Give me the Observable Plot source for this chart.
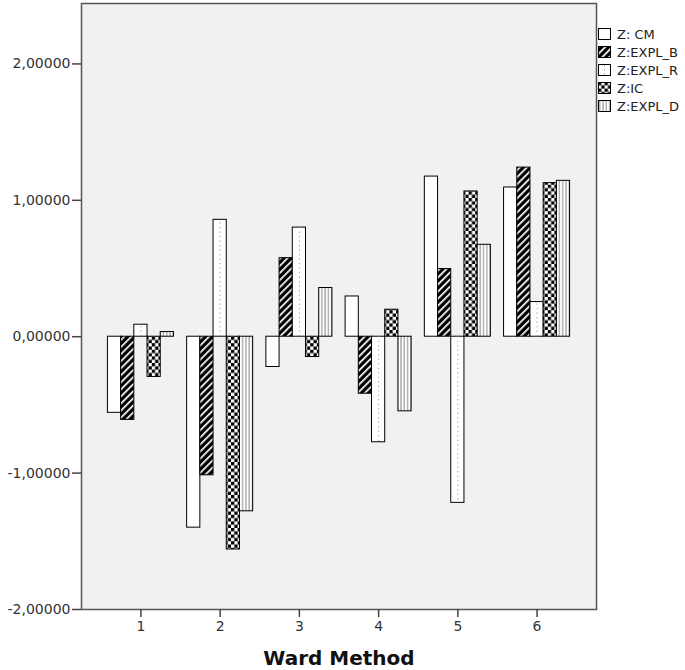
<!DOCTYPE html>
<html><head><meta charset="utf-8">
<script src="https://cdn.jsdelivr.net/npm/d3@7"></script>
<script src="https://cdn.jsdelivr.net/npm/@observablehq/plot@0.6"></script>
<style>
body{margin:0;background:#fff;}
#wrap{position:relative;width:685px;height:670px;}
#legend{position:absolute;left:598px;top:25px;font:13px "DejaVu Sans",sans-serif;color:#222;}
.row{display:flex;align-items:center;height:18px;white-space:nowrap;}
.row svg{margin-right:6px;}
g[aria-label="x-axis label"] text{font-weight:bold;font-size:20px;fill:#111;}
</style></head><body>
<svg width="0" height="0" style="position:absolute">
<defs>
<pattern id="p-b" patternUnits="userSpaceOnUse" width="5" height="5" patternTransform="rotate(45)"><rect width="5" height="5" fill="#000"/><rect width="1.7" height="5" fill="#fff"/></pattern>
<pattern id="p-ic" patternUnits="userSpaceOnUse" width="6.6" height="6.6"><rect width="6.6" height="6.6" fill="#fff"/><rect width="3.3" height="3.3" fill="#000"/><rect x="3.3" y="3.3" width="3.3" height="3.3" fill="#000"/></pattern>
<pattern id="p-d" patternUnits="userSpaceOnUse" width="3.3" height="4"><rect width="3.3" height="4" fill="#fff"/><rect x="1.2" width="1" height="4" fill="#888"/></pattern>
</defs></svg>
<div id="wrap"><div id="legend"></div></div>
<script>
const groups = [1, 2, 3, 4, 5, 6];
const series = ["Z: CM", "Z:EXPL_B", "Z:EXPL_R", "Z:IC", "Z:EXPL_D"];
const zCM     = [-0.558, -1.40, -0.222, 0.295, 1.174, 1.094];
const zEXPL_B = [-0.61, -1.016, 0.576, -0.418, 0.496, 1.24];
const zEXPL_R = [0.088, 0.857, 0.80, -0.774, -1.218, 0.254];
const zIC     = [-0.295, -1.56, -0.149, 0.198, 1.065, 1.126];
const zEXPL_D = [0.034, -1.28, 0.357, -0.547, 0.674, 1.143];
const yTicks = [-2, -1, 0, 1, 2];
const xLabel = "Ward Method";

const fills = ["#fff", "url(#p-b)", "#fff", "url(#p-ic)", "url(#p-d)"];
const valuesBySeries = [zCM, zEXPL_B, zEXPL_R, zIC, zEXPL_D];
const key = (g, s) => `${g}|${s}`;
const data = groups.flatMap((g, gi) => series.map((s, si) => ({group: g, series: s, key: key(g, s), value: valuesBySeries[si][gi]})));
// band domain: each group's five bars, with one empty slot between groups
const xDomain = groups.flatMap((g, gi) => (gi ? [`gap${g}`] : []).concat(series.map(s => key(g, s))));
const midSeries = series[2];

const chart = Plot.plot({
  width: 685, height: 670,
  marginLeft: 81, marginRight: 89, marginTop: 3, marginBottom: 61,
  style: {fontFamily: '"DejaVu Sans", sans-serif', fontSize: "14px", color: "#333", background: "transparent"},
  x: {domain: xDomain, paddingInner: 0, paddingOuter: 2, round: false},
  y: {domain: [-2, 2.443]},
  color: {type: "ordinal", domain: series, range: fills},
  marks: [
    Plot.frame({fill: "#f1f1f1"}),
    Plot.barY(data, {x: "key", y1: 0, y2: "value", fill: "series", stroke: "#000", strokeWidth: 1}),
    Plot.ruleX(data.filter(d => d.series === "Z:EXPL_R"), {x: "key", y1: 0, y2: "value", stroke: "#999", strokeDasharray: "1.2,3.3"}),
    Plot.frame({stroke: "#555", strokeWidth: 1.5}),
    Plot.axisY({ticks: yTicks, tickFormat: d => d.toFixed(5).replace(".", ","), tickSize: 9, tickPadding: 2, label: null, stroke: "#444", strokeWidth: 1.5}),
    Plot.axisX({ticks: groups.map(g => key(g, midSeries)), tickFormat: d => d.split("|")[0], tickSize: 8, tickPadding: 4, label: xLabel, labelAnchor: "center", labelOffset: 55, stroke: "#444", strokeWidth: 1.5})
  ]
});
const wrap = document.getElementById("wrap");
wrap.insertBefore(chart, wrap.firstChild);

const legend = d3.select("#legend");
series.forEach((s, i) => {
  const row = legend.append("div").attr("class", "row");
  const sw = row.append("svg").attr("width", 13).attr("height", 12);
  sw.append("rect").attr("x", 0.5).attr("y", 0.5).attr("width", 12).attr("height", 11)
    .attr("fill", fills[i]).attr("stroke", "#000");
  if (s === "Z:EXPL_R") sw.append("line").attr("x1", 6.5).attr("x2", 6.5).attr("y1", 1).attr("y2", 11)
    .attr("stroke", "#999").attr("stroke-dasharray", "1.2,3");
  row.append("span").text(s);
});
</script>
</body></html>
